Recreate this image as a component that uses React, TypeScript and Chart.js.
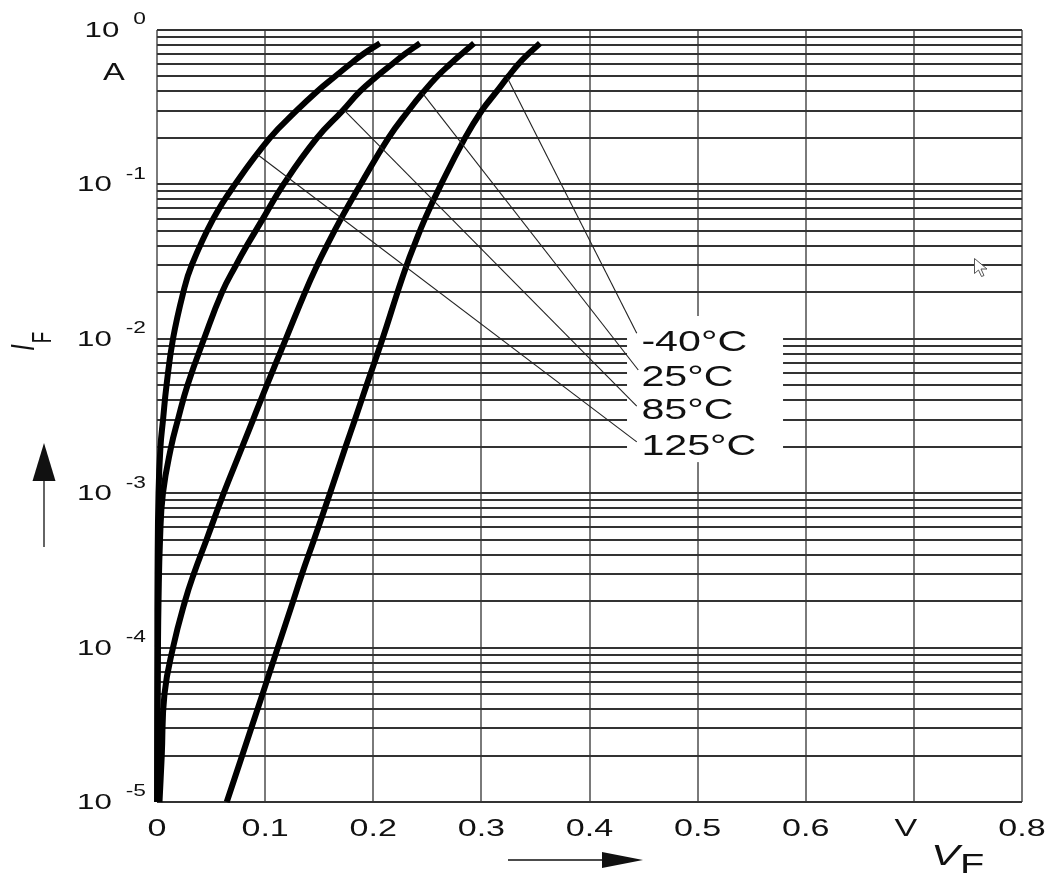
import React, { useEffect, useRef } from 'react';
import { Chart, registerables } from 'chart.js';

Chart.register(...registerables);

const CANVAS_W = 1062;
const CANVAS_H = 885;
const STRETCH = 1.42;
const FONT = '"Liberation Sans", Arial, Helvetica, sans-serif';

// ---- data: forward current I_F (A) vs forward voltage V_F (V) per temperature ----
const seriesLabels = ['-40°C', '25°C', '85°C', '125°C'];

const currentsA = [1e-5, 2e-5, 5e-5, 1e-4, 2e-4, 3e-4, 5e-4, 1e-3, 2e-3, 3e-3, 5e-3, 1e-2, 2e-2, 3e-2, 4e-2, 6e-2, 0.1, 0.2, 0.3, 0.4, 0.5, 0.6, 0.7, 0.82];
const vfMinus40 = [0.0645, 0.0788, 0.0976, 0.1117, 0.1259, 0.1341, 0.1452, 0.16, 0.1744, 0.1831, 0.1938, 0.2086, 0.2224, 0.2309, 0.2377, 0.2479, 0.2627, 0.2849, 0.3003, 0.3142, 0.3249, 0.3341, 0.3434, 0.3542];
const vf25 = [0.0023, 0.0044, 0.0069, 0.0148, 0.0259, 0.034, 0.0458, 0.0617, 0.0789, 0.0889, 0.1015, 0.1192, 0.1369, 0.1482, 0.157, 0.1702, 0.1883, 0.2141, 0.2325, 0.2468, 0.2591, 0.271, 0.2817, 0.2932];

const currents85 = [1e-5, 1e-4, 2e-4, 5e-4, 1e-3, 2e-3, 3e-3, 5e-3, 1e-2, 2e-2, 3e-2, 4e-2, 6e-2, 0.1, 0.2, 0.3, 0.4, 0.5, 0.6, 0.7, 0.82];
const vf85 = [0.0002, 0.0009, 0.0014, 0.0028, 0.0055, 0.0131, 0.0194, 0.0282, 0.0435, 0.0601, 0.0731, 0.083, 0.098, 0.117, 0.148, 0.1716, 0.1877, 0.2032, 0.2173, 0.2294, 0.2432];

const currents125 = [1e-5, 1e-4, 3e-4, 1e-3, 2e-3, 3e-3, 5e-3, 1e-2, 2e-2, 3e-2, 6e-2, 0.1, 0.2, 0.3, 0.4, 0.5, 0.6, 0.7, 0.82];
const vf125 = [0.0001, 0.0003, 0.0005, 0.0014, 0.0032, 0.0056, 0.0088, 0.0148, 0.0243, 0.0321, 0.0521, 0.0721, 0.1045, 0.129, 0.148, 0.1646, 0.1785, 0.1908, 0.2062];

// leader lines from curves to labels (data coordinates)
const leaderStartV = [0.324, 0.2455, 0.1735, 0.0935];
const leaderStartI = [0.49, 0.39, 0.3, 0.155];
const leaderEndV = [0.4437, 0.4451, 0.4437, 0.4437];
const leaderEndI = [0.01085, 0.00628, 0.00367, 0.00215];
const labelV = 0.448;
const labelI = [0.00953, 0.00566, 0.00346, 0.00202];
const labelBoxV = [0.4347, 0.579];
const labelBoxI = [0.00159, 0.01405];

// axes
const xTickValues = [0, 0.1, 0.2, 0.3, 0.4, 0.5, 0.6, 0.7, 0.8];
const xTickLabels = ['0', '0.1', '0.2', '0.3', '0.4', '0.5', '0.6', 'V', '0.8'];
const yDecadeValues = [1, 0.1, 0.01, 0.001, 0.0001, 0.00001];
const yDecadeExponents = ['0', '-1', '-2', '-3', '-4', '-5'];
const yMinorMultipliers = [1, 2, 3, 4, 5, 6, 7, 8, 9];

const yGridValues: number[] = [];
yDecadeValues.slice(1).forEach((d) => yMinorMultipliers.forEach((m) => yGridValues.push(d * m)));
yGridValues.push(1);

const toPoints = (v: number[], i: number[]) => v.map((x, k) => ({ x, y: i[k] }));

function sText(
  ctx: CanvasRenderingContext2D,
  text: string,
  x: number,
  y: number,
  size: number,
  align: CanvasTextAlign,
  baseline: CanvasTextBaseline = 'middle',
  italic = false,
) {
  ctx.save();
  ctx.font = `${italic ? 'italic ' : ''}${size}px ${FONT}`;
  ctx.textAlign = align;
  ctx.textBaseline = baseline;
  ctx.fillStyle = '#111';
  ctx.translate(x, y);
  ctx.scale(STRETCH, 1);
  ctx.fillText(text, 0, 0);
  ctx.restore();
}

function sWidth(ctx: CanvasRenderingContext2D, text: string, size: number, italic = false) {
  ctx.save();
  ctx.font = `${italic ? 'italic ' : ''}${size}px ${FONT}`;
  const w = ctx.measureText(text).width * STRETCH;
  ctx.restore();
  return w;
}

const decorPlugin = {
  id: 'decor',
  beforeDatasetsDraw(chart: any) {
    const { ctx, scales } = chart;
    const x = scales.x;
    const y = scales.y;
    const x0 = x.getPixelForValue(labelBoxV[0]);
    const x1 = x.getPixelForValue(labelBoxV[1]);
    const y0 = y.getPixelForValue(labelBoxI[1]);
    const y1 = y.getPixelForValue(labelBoxI[0]);
    ctx.save();
    ctx.fillStyle = '#ffffff';
    ctx.fillRect(x0, y0, x1 - x0, y1 - y0);
    ctx.restore();
  },
  afterDraw(chart: any) {
    const { ctx, scales, chartArea } = chart;
    const x = scales.x;
    const y = scales.y;

    // leader lines
    ctx.save();
    ctx.strokeStyle = '#222';
    ctx.lineWidth = 1.1;
    for (let k = 0; k < seriesLabels.length; k++) {
      ctx.beginPath();
      ctx.moveTo(x.getPixelForValue(leaderStartV[k]), y.getPixelForValue(leaderStartI[k]));
      ctx.lineTo(x.getPixelForValue(leaderEndV[k]), y.getPixelForValue(leaderEndI[k]));
      ctx.stroke();
    }
    ctx.restore();

    // series labels
    for (let k = 0; k < seriesLabels.length; k++) {
      sText(ctx, seriesLabels[k], x.getPixelForValue(labelV), y.getPixelForValue(labelI[k]) + 1, 29, 'left');
    }

    // y tick labels: 10 with superscript exponent
    const supRight = chartArea.left - 11;
    yDecadeValues.forEach((v, k) => {
      const py = y.getPixelForValue(v);
      const exp = yDecadeExponents[k];
      const supW = sWidth(ctx, exp, 16);
      sText(ctx, exp, supRight, py - 10, 16, 'right');
      sText(ctx, '10', supRight - supW - 14, py + 1, 22, 'right');
    });
    // unit
    sText(ctx, 'A', chartArea.left - 43, chartArea.top + 44, 23, 'center');

    // x tick labels
    xTickValues.forEach((v, k) => {
      const px = x.getPixelForValue(v) + (xTickLabels[k] === 'V' ? -8 : 0);
      sText(ctx, xTickLabels[k], px, chartArea.bottom + 27, 24, 'center');
    });

    // x title V_F
    sText(ctx, 'V', 931, 865, 30, 'left', 'alphabetic', true);
    sText(ctx, 'F', 960, 873, 28, 'left', 'alphabetic');

    // y title I_F (rotated)
    ctx.save();
    ctx.fillStyle = '#111';
    ctx.translate(34, 351);
    ctx.scale(STRETCH, 1);
    ctx.rotate(-Math.PI / 2);
    ctx.textAlign = 'left';
    ctx.textBaseline = 'alphabetic';
    ctx.font = `italic 24px ${FONT}`;
    ctx.fillText('I', 0, 0);
    const wI = ctx.measureText('I').width;
    ctx.font = `19px ${FONT}`;
    ctx.fillText('F', wI + 1, 12);
    ctx.restore();

    // arrows
    ctx.save();
    ctx.strokeStyle = '#111';
    ctx.fillStyle = '#111';
    ctx.lineWidth = 1.3;
    ctx.beginPath();
    ctx.moveTo(44, 547);
    ctx.lineTo(44, 480);
    ctx.stroke();
    ctx.beginPath();
    ctx.moveTo(32.5, 481);
    ctx.lineTo(44, 443);
    ctx.lineTo(55.5, 481);
    ctx.closePath();
    ctx.fill();
    ctx.beginPath();
    ctx.moveTo(508, 860);
    ctx.lineTo(604, 860);
    ctx.stroke();
    ctx.beginPath();
    ctx.moveTo(602, 852);
    ctx.lineTo(643, 860);
    ctx.lineTo(602, 868);
    ctx.closePath();
    ctx.fill();
    ctx.restore();

    // mouse pointer artifact
    ctx.save();
    ctx.strokeStyle = '#555';
    ctx.fillStyle = '#fff';
    ctx.lineWidth = 1;
    ctx.beginPath();
    ctx.moveTo(974.5, 258.5);
    ctx.lineTo(974.5, 273.5);
    ctx.lineTo(978.5, 270);
    ctx.lineTo(981.5, 276.5);
    ctx.lineTo(984, 275.5);
    ctx.lineTo(981, 269);
    ctx.lineTo(987, 269);
    ctx.closePath();
    ctx.fill();
    ctx.stroke();
    ctx.restore();
  },
};

export default function App() {
  const canvasRef = useRef<HTMLCanvasElement | null>(null);

  useEffect(() => {
    const canvas = canvasRef.current;
    if (!canvas) return;
    const mk = (label: string, v: number[], i: number[]) => ({
      label,
      data: toPoints(v, i),
      borderColor: '#000',
      backgroundColor: '#000',
      borderWidth: 6,
      pointRadius: 0,
      tension: 0.45,
      fill: false,
      clip: false as any,
      borderCapStyle: 'butt' as const,
      borderJoinStyle: 'round' as const,
    });
    const chart = new Chart(canvas, {
      type: 'line',
      data: {
        datasets: [
          mk(seriesLabels[0], vfMinus40, currentsA),
          mk(seriesLabels[1], vf25, currentsA),
          mk(seriesLabels[2], vf85, currents85),
          mk(seriesLabels[3], vf125, currents125),
        ],
      },
      options: {
        indexAxis: 'y',
        animation: false,
        responsive: false,
        devicePixelRatio: 1,
        layout: { autoPadding: false, padding: { left: 157, top: 30, right: 40, bottom: 83 } },
        plugins: { legend: { display: false }, tooltip: { enabled: false } },
        events: [],
        scales: {
          x: {
            type: 'linear',
            min: 0,
            max: 0.8,
            afterBuildTicks: (scale: any) => {
              scale.ticks = xTickValues.map((value) => ({ value }));
            },
            ticks: { display: false },
            grid: { color: '#7a7a7a', lineWidth: 2, drawTicks: false },
            border: { display: false },
          },
          y: {
            type: 'logarithmic',
            min: 1e-5,
            max: 1,
            afterBuildTicks: (scale: any) => {
              scale.ticks = yGridValues.map((value) => ({ value }));
            },
            ticks: { display: false },
            grid: { color: '#333', lineWidth: 2, drawTicks: false },
            border: { display: false },
          },
        },
      },
      plugins: [decorPlugin],
    } as any);
    return () => chart.destroy();
  }, []);

  return (
    <div style={{ position: 'absolute', left: 0, top: 0, width: CANVAS_W, height: CANVAS_H, background: '#fff' }}>
      <canvas ref={canvasRef} width={CANVAS_W} height={CANVAS_H} style={{ width: CANVAS_W, height: CANVAS_H, display: 'block' }} />
    </div>
  );
}
